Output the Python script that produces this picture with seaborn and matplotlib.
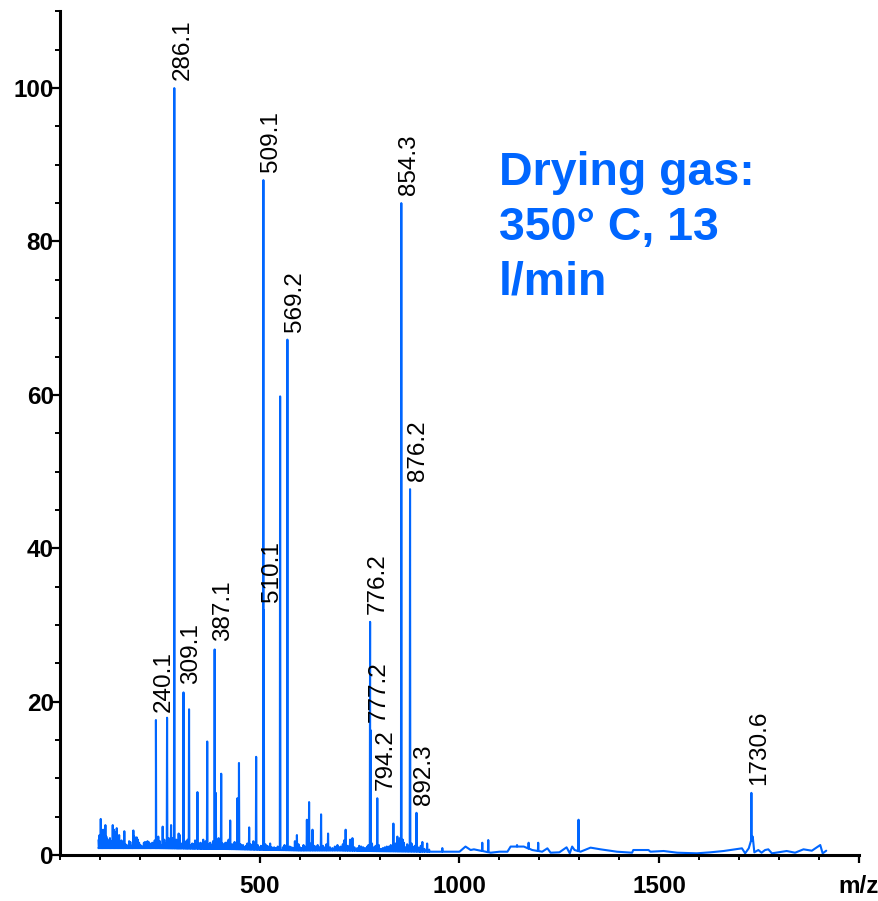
import numpy as np
import pandas as pd
import matplotlib
matplotlib.use("Agg")
import matplotlib.pyplot as plt
import seaborn as sns
from matplotlib.ticker import MultipleLocator, FixedLocator

sns.set_theme(style="ticks")
plt.rcParams["font.family"] = ["Liberation Sans", "DejaVu Sans"]

BLUE = "#0066FF"

# ---- data ----
# main peaks (m/z, relative intensity %)
peak_mz = [240.1, 268, 286.1, 309.1, 323, 344, 368.5, 387.1, 390, 403.5, 426,
           444, 448, 473.5, 491, 509.1, 510.1, 551, 569.2, 593, 618, 623.5,
           632, 653.5, 671, 715, 732, 776.2, 777.2, 794.2, 834.5, 854.3, 876.2,
           892.3, 907, 919, 957, 1057, 1072, 1144, 1173, 1197, 1298, 1730.6]
peak_int = [17.6, 17.9, 100, 21.2, 19.0, 8.2, 14.8, 26.8, 8.1, 10.6, 4.5,
            7.4, 12.0, 3.6, 12.8, 88.0, 31.9, 59.8, 67.2, 2.6, 4.6, 6.9,
            3.3, 5.3, 2.8, 3.3, 2.2, 30.4, 16.3, 7.4, 4.1, 85.0, 47.7,
            5.5, 1.7, 1.5, 0.9, 1.6, 1.95, 1.3, 1.6, 1.6, 4.6, 8.1]

# small noise spikes, low mass region
noise_lo_mz = [97, 99, 102, 105, 108, 111, 113.6, 116, 119, 122, 125, 128,
               132, 135, 138, 142, 145, 148, 151, 154, 157, 161, 164, 167, 170,
               173, 176, 179, 183.6, 186, 189, 192, 195, 198, 201, 204, 207,
               210, 213, 216, 219, 222, 225, 228, 231, 234, 237]
noise_lo_int = [2.0, 2.6, 4.7, 3.0, 3.3, 2.2, 3.9, 2.4, 2.0, 1.6, 2.2, 1.8,
                3.9, 3.3, 3.0, 3.5, 2.4, 2.6, 1.5, 1.9, 1.2, 3.1, 1.4, 1.3, 1.1,
                1.8, 1.7, 1.2, 3.2, 2.4, 2.0, 2.3, 2.0, 1.6, 1.3, 1.2, 1.0,
                1.6, 1.7, 1.4, 1.8, 1.7, 1.5, 1.2, 1.6, 1.3, 1.9]

# small noise spikes, mid mass region
noise_mid_mz = [243, 246, 250, 253, 257, 261, 264, 272, 275, 278, 281, 291,
                294, 297, 300, 303, 313, 316, 319.5, 327, 331, 335, 338, 348,
                352, 355, 358.6, 362, 365, 372, 376, 380, 383, 394, 397, 400,
                407, 410, 414, 417, 419.5, 422, 431, 434, 437, 440, 452, 455,
                458, 462, 465, 469, 477, 480, 484, 487, 495, 499, 503, 514,
                518, 522, 526, 530, 536, 540, 545, 558, 562, 575, 580, 585,
                588, 597, 601, 605, 609.5, 613, 627, 636, 640, 645, 649, 658,
                663, 667, 676, 682, 688, 694.5, 699, 703, 708, 711, 720, 726,
                737, 744, 749, 754, 759, 764, 769, 772, 781, 786, 790, 798,
                803, 808, 813, 818, 823.5, 828, 840, 844.5, 848, 851, 858, 861,
                865, 869, 872, 880, 884, 888, 896, 900, 903, 912, 924]
noise_mid_int = [1.5, 2.4, 1.8, 1.3, 3.7, 2.0, 1.5, 2.2, 1.6, 3.9, 2.2, 2.0,
                 1.4, 2.8, 2.6, 1.5, 1.6, 1.8, 2.0, 1.3, 1.5, 1.4, 1.9, 1.5,
                 1.6, 1.2, 2.0, 1.5, 1.8, 1.4, 1.6, 1.3, 1.8, 1.6, 2.2, 1.5,
                 1.5, 1.3, 1.6, 1.2, 1.7, 2.0, 1.4, 1.2, 1.7, 1.5, 1.4, 1.1,
                 1.3, 1.0, 1.2, 1.5, 1.4, 1.0, 1.8, 1.2, 1.3, 1.0, 1.2, 1.4,
                 1.2, 1.1, 1.5, 1.0, 1.0, 0.9, 1.1, 1.0, 1.3, 1.1, 1.0, 0.9,
                 1.8, 1.4, 1.0, 0.9, 1.3, 1.1, 1.5, 1.2, 1.1, 1.3, 1.0, 1.2,
                 1.0, 1.4, 1.0, 0.9, 1.1, 1.3, 1.0, 1.1, 1.4, 1.9, 1.2, 2.0,
                 1.0, 0.9, 1.2, 1.1, 1.0, 0.9, 1.1, 1.3, 1.5, 1.0, 1.2, 1.3,
                 0.8, 0.9, 1.0, 1.1, 1.1, 1.3, 1.5, 2.4, 1.8, 2.2, 2.0, 1.6,
                 1.0, 1.4, 1.2, 1.5, 1.0, 1.2, 1.0, 0.9, 1.2, 0.8, 0.7]

# baseline (floor of the trace), wandering in the high mass region
base_mz = [97, 240, 400, 600, 700, 800, 900, 930, 960, 970, 1000, 1015, 1028,
           1036, 1078, 1100, 1120, 1128, 1161, 1182, 1207, 1220, 1228, 1250,
           1268, 1276, 1282, 1288, 1303, 1328, 1353, 1394, 1432, 1435, 1473,
           1478, 1511, 1545, 1594, 1628, 1661, 1707, 1715, 1724, 1734, 1738,
           1748, 1756, 1765, 1773, 1782, 1819, 1840, 1861, 1882, 1903, 1909,
           1918]
base_int = [0.9, 0.9, 0.8, 0.6, 0.6, 0.5, 0.45, 0.43, 0.43, 0.43, 0.43, 1.1,
            0.65, 0.74, 0.3, 0.43, 0.43, 1.1, 1.1, 0.65, 0.43, 0.87, 0.3, 0.35,
            1.0, 0.22, 1.1, 0.65, 0.43, 0.96, 0.74, 0.43, 0.3, 0.65, 0.65,
            0.43, 0.52, 0.3, 0.22, 0.35, 0.52, 0.87, 0.22, 0.87, 2.4, 0.35,
            0.65, 0.3, 0.65, 0.74, 0.22, 0.52, 0.3, 0.74, 0.56, 1.3, 0.22,
            0.56]

label_mz = [240.1, 286.1, 309.1, 387.1, 509.1, 510.1, 569.2, 776.2, 777.2,
            794.2, 854.3, 876.2, 892.3, 1730.6]
label_text = ["240.1", "286.1", "309.1", "387.1", "509.1", "510.1", "569.2",
              "776.2", "777.2", "794.2", "854.3", "876.2", "892.3", "1730.6"]

xtick_vals = [500, 1000, 1500, 2000]
xtick_labels = ["500", "1000", "1500", "m/z"]
ytick_vals = [0, 20, 40, 60, 80, 100]
ytick_labels = ["0", "20", "40", "60", "80", "100"]
note_lines = ["Drying gas:", "350° C, 13", "l/min"]

# ---- build stick profile: each stick rises from the baseline ----
stick_mz = np.array(peak_mz + noise_lo_mz + noise_mid_mz, dtype=float)
stick_int = np.array(peak_int + noise_lo_int + noise_mid_int, dtype=float)
b_mz = np.array(base_mz, dtype=float)
b_int = np.array(base_int, dtype=float)
floor = np.interp(stick_mz, b_mz, b_int)
d = 0.8
px = np.concatenate([b_mz, stick_mz - d, stick_mz, stick_mz + d])
py = np.concatenate([b_int, floor, stick_int, floor])
order = np.argsort(px, kind="stable")
df = pd.DataFrame({"mz": px[order], "intensity": py[order]})

fig = plt.figure(figsize=(8.79, 9.01), dpi=100)
ax = fig.add_axes([60 / 879, 46 / 901, 799 / 879, 843.6 / 901])

sns.lineplot(data=df, x="mz", y="intensity", estimator=None, sort=False,
             color=BLUE, lw=1.5, ax=ax)

ax.set_xlim(0, 2000)
ax.set_ylim(0, 110)
ax.set_xlabel("")
ax.set_ylabel("")
sns.despine(ax=ax)
for s in ("left", "bottom"):
    ax.spines[s].set_linewidth(2.2)
    ax.spines[s].set_color("black")

ax.xaxis.set_major_locator(FixedLocator(xtick_vals))
ax.set_xticklabels(xtick_labels)
ax.xaxis.set_minor_locator(MultipleLocator(100))
ax.yaxis.set_major_locator(FixedLocator(ytick_vals))
ax.set_yticklabels(ytick_labels)
ax.yaxis.set_minor_locator(MultipleLocator(5))

ax.tick_params(which="major", length=6, width=1.6, color="black",
               labelsize=17.5, labelcolor="black")
ax.tick_params(which="minor", length=3.8, width=1.4, color="black")
ax.tick_params(axis="x", which="major", pad=8.5)
ax.tick_params(axis="y", which="major", pad=-1.5)
for t in ax.get_xticklabels() + ax.get_yticklabels():
    t.set_fontweight("bold")

lookup = dict(zip(peak_mz, peak_int))
for m, txt in zip(label_mz, label_text):
    ax.annotate(txt, xy=(m, lookup[m]), xytext=(8, 8),
                textcoords="offset pixels", rotation=90, ha="center",
                va="bottom", fontsize=17.5, color="black")

fig.text(499 / 879, 1 - 151 / 901, "\n".join(note_lines), color=BLUE,
         fontsize=33.5, fontweight="bold", ha="left", va="top",
         linespacing=1.32)

fig.savefig("out.png", dpi=100, facecolor="white")
